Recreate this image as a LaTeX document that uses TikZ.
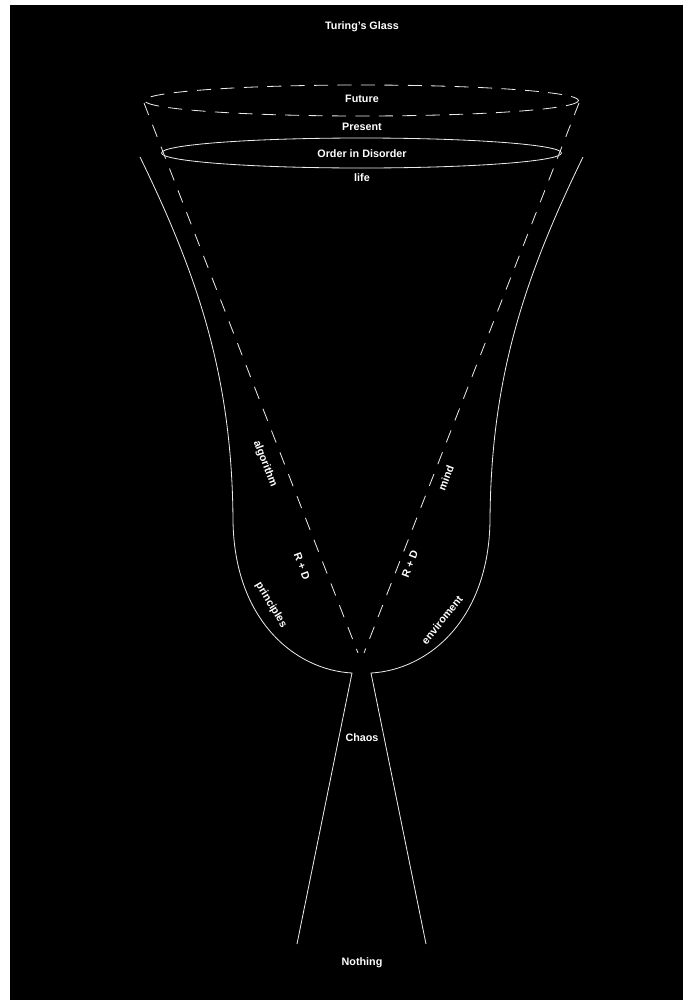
\documentclass[tikz,border=0pt]{standalone}
\usepackage{fontspec}
\setmainfont{Liberation Sans}

\begin{document}
\begin{tikzpicture}[
  x=0.3mm,
  y=-0.3mm,
  glass/.style={draw=white!92!black, line width=0.7pt},
  rim/.style={glass, dash pattern=on 12pt off 8pt},
  axis/.style={glass, dash pattern=on 11pt off 9pt},
  lbl/.style={text=white, font=\fontsize{9.2}{11}\selectfont\bfseries, inner sep=1pt}
]
  \useasboundingbox (0,0) rectangle (683,1000);
  \fill[white] (0,0) rectangle (683,1000);
  \fill[black] (10,5) rectangle (683,1000);

  % points of the glass
  \coordinate (lipL) at (140,157);
  \coordinate (lipR) at (583,157);
  \coordinate (rimL) at (144,103);
  \coordinate (rimR) at (579,103);
  \coordinate (apexL) at (358,653);
  \coordinate (apexR) at (364,653);
  \coordinate (neckL) at (352,673);
  \coordinate (neckR) at (371,673);
  \coordinate (footL) at (297,944);
  \coordinate (footR) at (426,944);

  % rims
  \draw[rim] (361.5,100.5) ellipse [x radius=217, y radius=15.5];
  \draw[glass] (361.5,153) ellipse [x radius=200, y radius=15];

  % bowl and stem
  \draw[glass] (lipL) .. controls (200,280) and (232,380) .. (233,520)
    .. controls (234,620) and (295,670) .. (neckL) -- (footL);
  \draw[glass] (lipR) .. controls (523,280) and (491,380) .. (490,520)
    .. controls (489,620) and (428,670) .. (neckR) -- (footR);

  % the V
  \draw[axis] (rimL) -- (apexL);
  \draw[axis] (rimR) -- (apexR);

  \node[lbl] (title) at (362,27) {Turing's Glass};
  \node[lbl] (future) at (362,99) {Future};
  \node[lbl] (present) at (362,127) {Present};
  \node[lbl] (order) at (362,154) {Order in Disorder};
  \node[lbl] (life) at (362,178) {life};
  \node[lbl, rotate=-69] (algo) at (265,464) {algorithm};
  \node[lbl, rotate=-69] (rdL) at (302,566) {R + D};
  \node[lbl, rotate=-59] (princ) at (271,605) {principles};
  \node[lbl, rotate=69] (mind) at (446,478) {mind};
  \node[lbl, rotate=69] (rdR) at (410,564) {R + D};
  \node[lbl, rotate=51] (env) at (442,620) {enviroment};
  \node[lbl] (chaos) at (362,738) {Chaos};
  \node[lbl] (nothing) at (362,963) {Nothing};
\end{tikzpicture}
\end{document}
